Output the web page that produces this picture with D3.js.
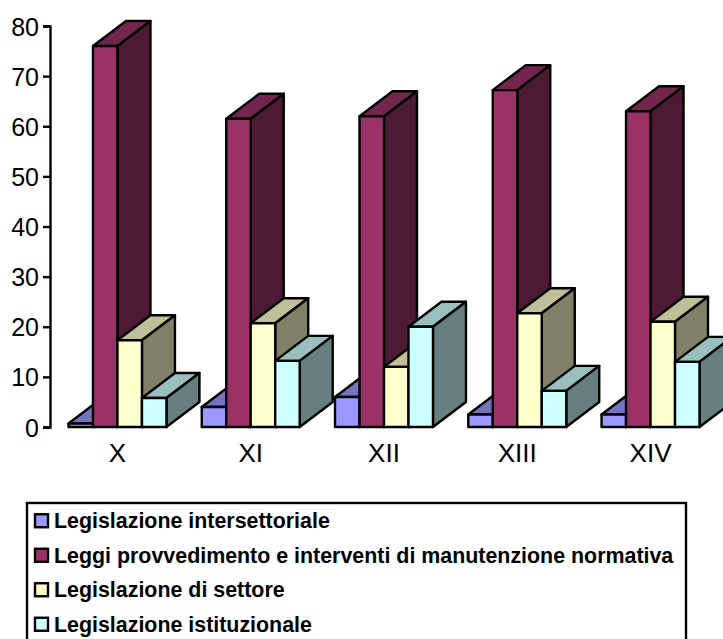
<!DOCTYPE html>
<html>
<head>
<meta charset="utf-8">
<script src="https://d3js.org/d3.v7.min.js"></script>
<style>
  html, body { margin: 0; padding: 0; background: #fff; overflow: hidden; }
  text { font-family: "Liberation Sans", Arial, sans-serif; fill: #000; }
</style>
</head>
<body>
<div id="chart"></div>
<script>
var svgWidth = 723;
var svgHeight = 639;

var legislatures = ["X", "XI", "XII", "XIII", "XIV"];
var seriesNames = [
  "Legislazione intersettoriale",
  "Leggi provvedimento e interventi di manutenzione normativa",
  "Legislazione di settore",
  "Legislazione istituzionale"
];
var seriesColors = ["#9999ff", "#993366", "#ffffcc", "#ccffff"];
var intersettoriale = [0.7, 4, 6, 2.5, 2.5];
var provvedimento = [76, 61.5, 62, 67.2, 63];
var settore = [17.3, 20.7, 12, 22.7, 21];
var istituzionale = [5.8, 13.2, 20, 7.2, 13];
var yTicks = [0, 10, 20, 30, 40, 50, 60, 70, 80];

var allSeries = [intersettoriale, provvedimento, settore, istituzionale];

var depthX = 33;
var depthY = -25;

var svg = d3.select("#chart").append("svg")
  .attr("width", svgWidth)
  .attr("height", svgHeight)
  .style("display", "block");

var x = d3.scaleBand().domain(legislatures).range([50.5, 717.5]).paddingInner(0.265).paddingOuter(0.135);
var barX = d3.scaleBand().domain(d3.range(4)).range([0, x.bandwidth()]);
var y = d3.scaleLinear().domain([0, 80]).range([427, 26]);

function shade(color, k) {
  var c = d3.rgb(color);
  return d3.rgb(c.r * k, c.g * k, c.b * k).formatHex();
}

// each bar is front + top + side, drawn left to right so neighbours overlap properly
legislatures.forEach(function(leg, i) {
  allSeries.forEach(function(values, s) {
    var x0 = x(leg) + barX(s);
    var x1 = x0 + barX.bandwidth();
    var y0 = y(0);
    var y1 = y(values[i]);
    var g = svg.append("g")
      .attr("stroke", "#000")
      .attr("stroke-width", 2.4)
      .attr("stroke-linejoin", "round");

    g.append("polygon")
      .attr("points", [[x0, y1], [x0 + depthX, y1 + depthY], [x1 + depthX, y1 + depthY], [x1, y1]].join(" "))
      .attr("fill", shade(seriesColors[s], 0.75));
    g.append("polygon")
      .attr("points", [[x1, y1], [x1 + depthX, y1 + depthY], [x1 + depthX, y0 + depthY], [x1, y0]].join(" "))
      .attr("fill", shade(seriesColors[s], 0.5));
    g.append("rect")
      .attr("x", x0)
      .attr("y", y1)
      .attr("width", x1 - x0)
      .attr("height", y0 - y1)
      .attr("fill", seriesColors[s]);
  });
});

var yAxis = svg.append("g")
  .attr("transform", "translate(50,0)")
  .call(d3.axisLeft(y).tickValues(yTicks).tickSize(7).tickPadding(4));
yAxis.select(".domain").attr("stroke", "#000").attr("stroke-width", 2.4);
yAxis.selectAll(".tick line").attr("stroke", "#000").attr("stroke-width", 2.4);
yAxis.selectAll("text")
  .attr("y", 1)
  .style("font-size", "25px")
  .style("font-family", '"Liberation Sans", Arial, sans-serif');

var xAxis = svg.append("g")
  .attr("transform", "translate(0,427)")
  .call(d3.axisBottom(x).tickSize(0).tickPadding(17));
xAxis.select(".domain").remove();
xAxis.selectAll("text").style("font-size", "26px").style("font-family", '"Liberation Sans", Arial, sans-serif');

// legend box runs off the bottom of the picture
svg.append("rect")
  .attr("x", 27)
  .attr("y", 503)
  .attr("width", 659)
  .attr("height", 150)
  .attr("fill", "#fff")
  .attr("stroke", "#000")
  .attr("stroke-width", 2.4);

var legendRow = d3.scaleBand().domain(d3.range(4)).range([504, 642]);

var legend = svg.selectAll(".legend")
  .data(seriesNames)
  .enter()
  .append("g")
  .attr("class", "legend")
  .attr("transform", function(d, i) {
    return "translate(0," + (legendRow(i) + legendRow.bandwidth() / 2) + ")";
  });

legend.append("rect")
  .attr("x", 35)
  .attr("y", -7)
  .attr("width", 13)
  .attr("height", 13)
  .attr("fill", function(d, i) { return seriesColors[i]; })
  .attr("stroke", "#000")
  .attr("stroke-width", 2.4);

legend.append("text")
  .attr("x", 54)
  .attr("y", 7)
  .style("font-size", "21.4px")
  .style("font-weight", "bold")
  .text(function(d) { return d; });
</script>
</body>
</html>
